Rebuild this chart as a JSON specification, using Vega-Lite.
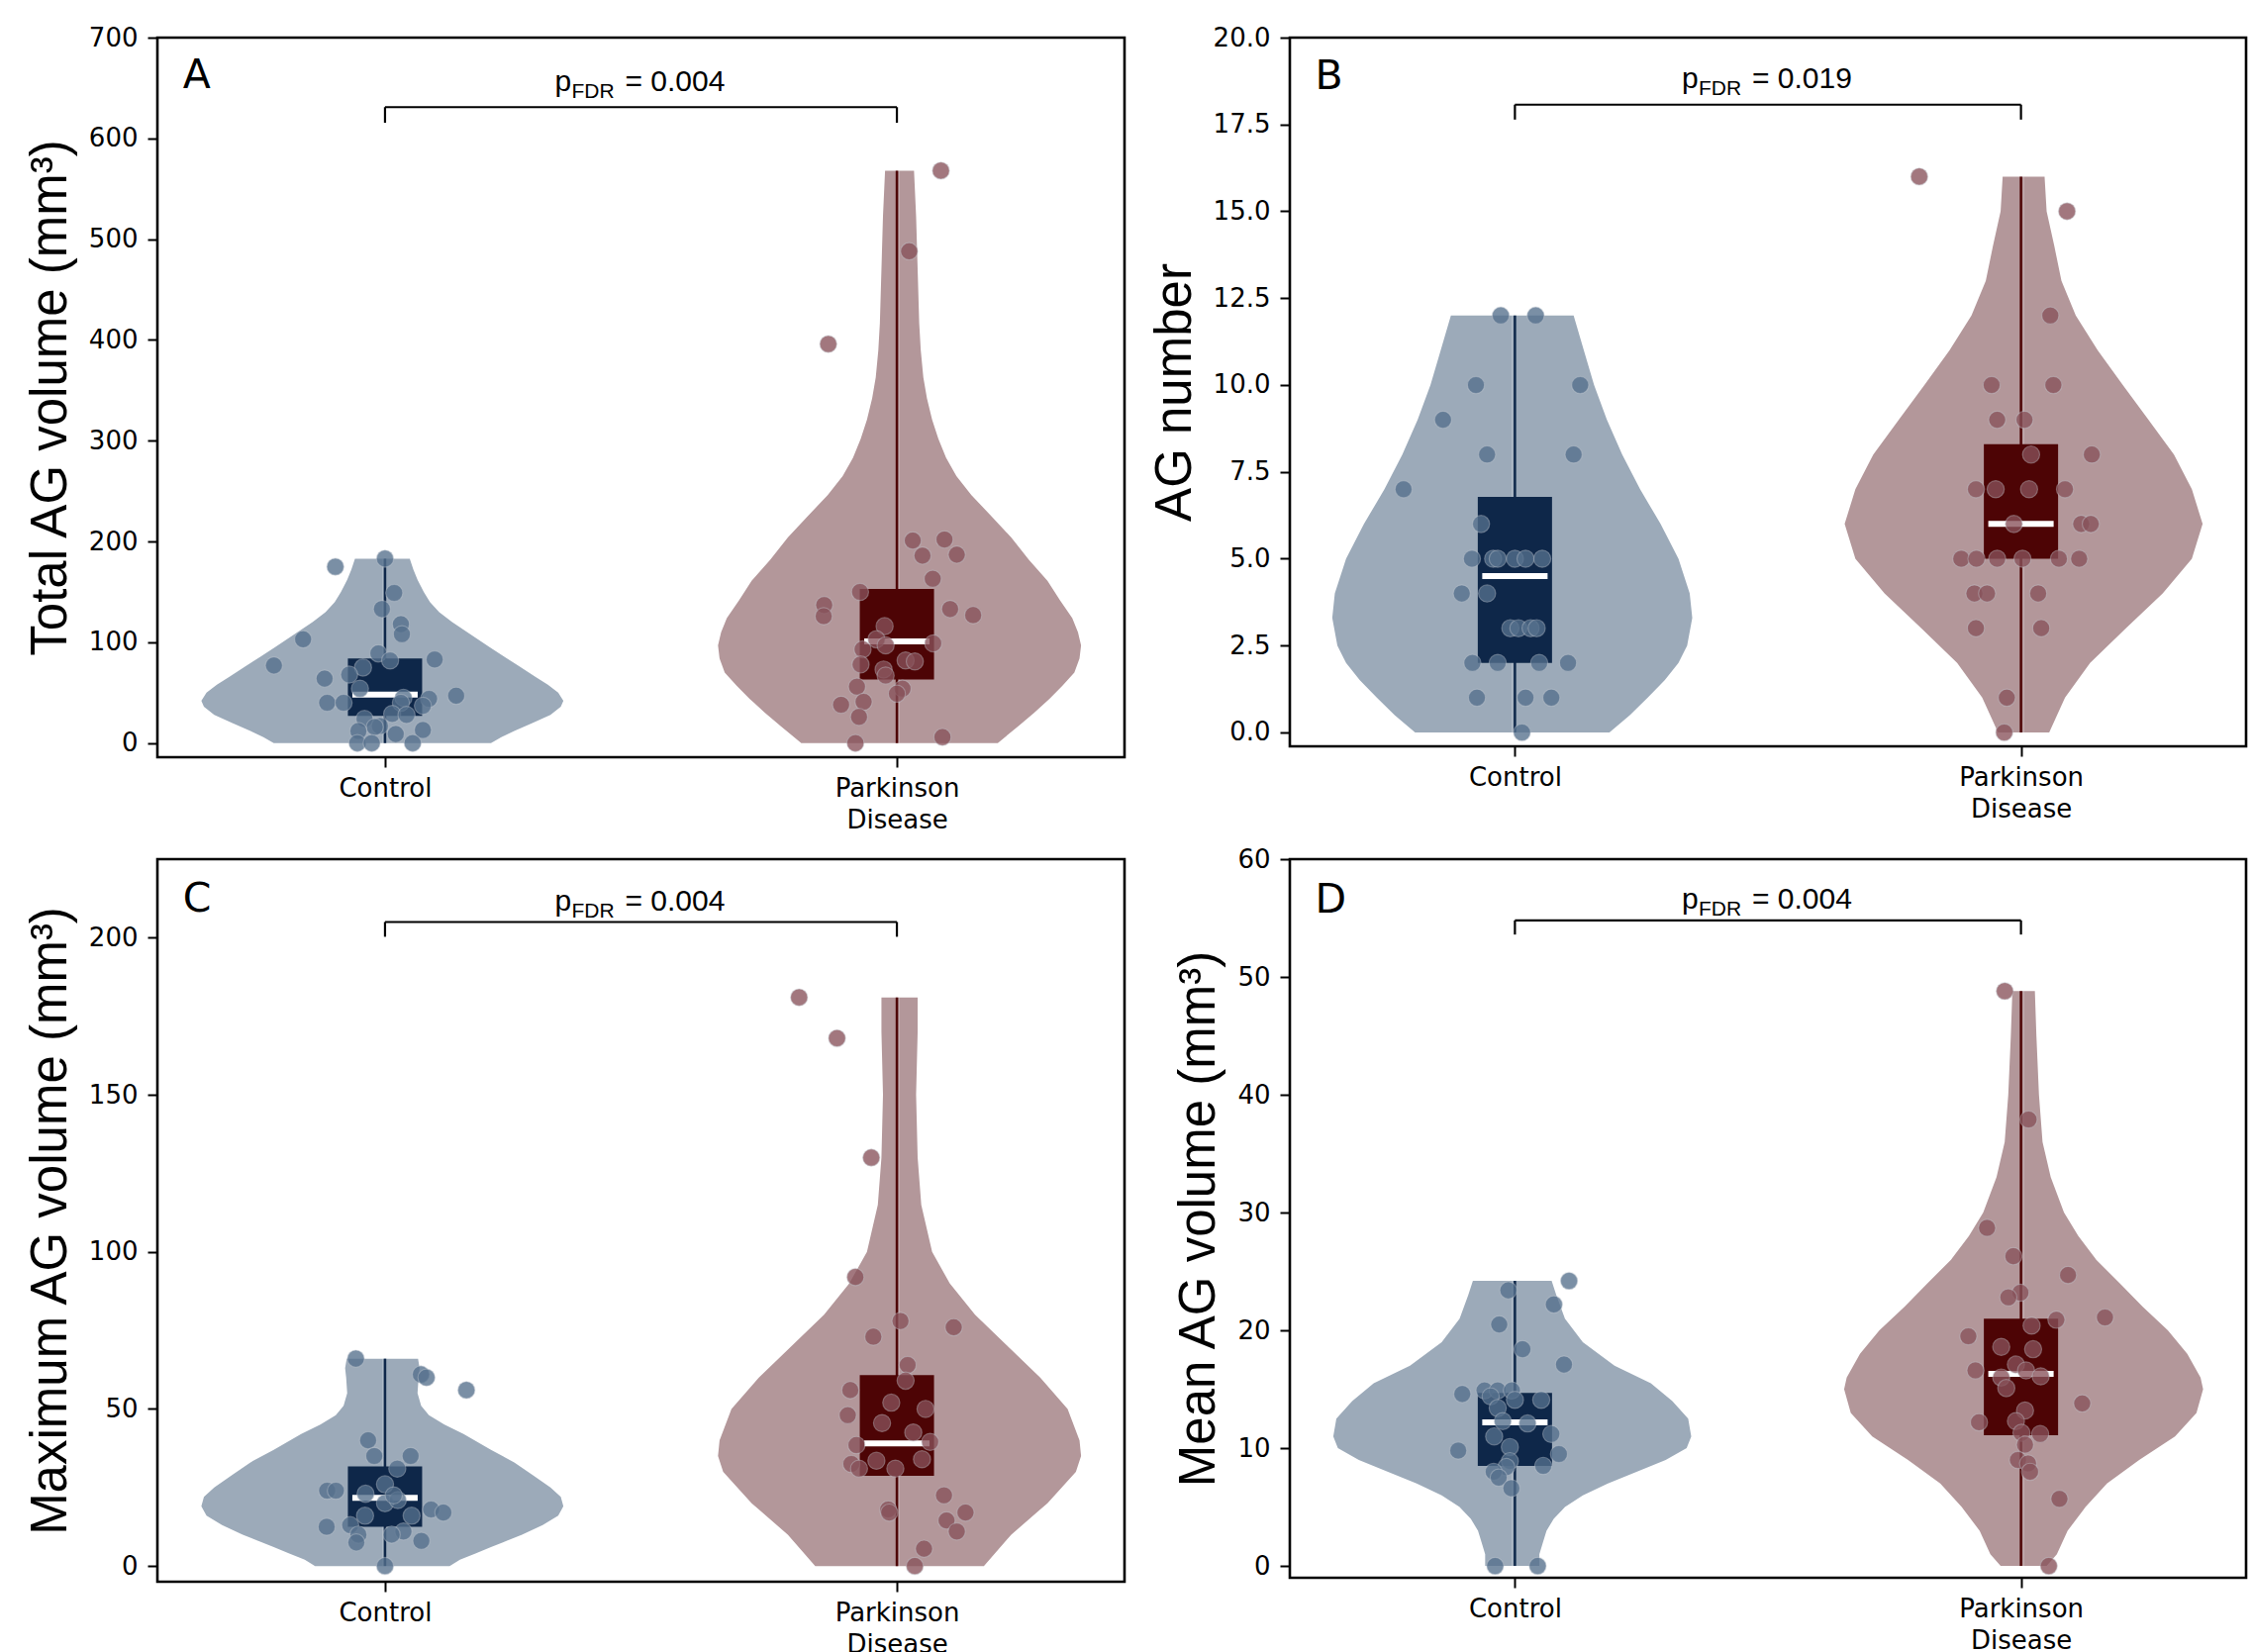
{
"$schema": "https://vega.github.io/schema/vega-lite/v6.json",
"background": "white",
"padding": {"left": 24, "top": 23, "right": 6, "bottom": 4},
"columns": 2,
"bounds": "flush",
"align": "all",
"spacing": {"row": 100, "column": 167},
"datasets": {
"pts": [
{"p":"A","g":"Control","x":0,"v":183},{"p":"A","g":"Control","x":-0.097,"v":175},{"p":"A","g":"Control","x":0.018,"v":149},{"p":"A","g":"Control","x":-0.006,"v":133},{"p":"A","g":"Control","x":0.031,"v":118},{"p":"A","g":"Control","x":0.033,"v":108},{"p":"A","g":"Control","x":-0.16,"v":103},{"p":"A","g":"Control","x":-0.013,"v":89},{"p":"A","g":"Control","x":0.097,"v":83},{"p":"A","g":"Control","x":0.01,"v":82},{"p":"A","g":"Control","x":-0.217,"v":77},{"p":"A","g":"Control","x":-0.043,"v":75},{"p":"A","g":"Control","x":-0.118,"v":64},{"p":"A","g":"Control","x":-0.07,"v":68},{"p":"A","g":"Control","x":-0.049,"v":54},{"p":"A","g":"Control","x":0.139,"v":47},{"p":"A","g":"Control","x":0.036,"v":45},{"p":"A","g":"Control","x":0.086,"v":44},{"p":"A","g":"Control","x":-0.113,"v":40},{"p":"A","g":"Control","x":-0.081,"v":40},{"p":"A","g":"Control","x":0.031,"v":40},{"p":"A","g":"Control","x":0.074,"v":37},{"p":"A","g":"Control","x":-0.04,"v":24},{"p":"A","g":"Control","x":0.014,"v":29},{"p":"A","g":"Control","x":0.042,"v":28},{"p":"A","g":"Control","x":-0.01,"v":17},{"p":"A","g":"Control","x":-0.02,"v":16},{"p":"A","g":"Control","x":-0.052,"v":12},{"p":"A","g":"Control","x":0.074,"v":13},{"p":"A","g":"Control","x":0.021,"v":9},{"p":"A","g":"Control","x":-0.054,"v":0},{"p":"A","g":"Control","x":-0.026,"v":0},{"p":"A","g":"Control","x":0.054,"v":0},
{"p":"A","g":"PD","x":1.086,"v":568},{"p":"A","g":"PD","x":1.024,"v":488},{"p":"A","g":"PD","x":0.866,"v":396},{"p":"A","g":"PD","x":1.031,"v":201},{"p":"A","g":"PD","x":1.093,"v":202},{"p":"A","g":"PD","x":1.05,"v":186},{"p":"A","g":"PD","x":1.117,"v":187},{"p":"A","g":"PD","x":1.07,"v":163},{"p":"A","g":"PD","x":0.928,"v":150},{"p":"A","g":"PD","x":0.858,"v":137},{"p":"A","g":"PD","x":0.857,"v":126},{"p":"A","g":"PD","x":1.104,"v":133},{"p":"A","g":"PD","x":1.149,"v":127},{"p":"A","g":"PD","x":0.976,"v":116},{"p":"A","g":"PD","x":0.96,"v":103},{"p":"A","g":"PD","x":0.933,"v":93},{"p":"A","g":"PD","x":0.978,"v":97},{"p":"A","g":"PD","x":1.071,"v":99},{"p":"A","g":"PD","x":0.929,"v":78},{"p":"A","g":"PD","x":1.017,"v":82},{"p":"A","g":"PD","x":1.035,"v":81},{"p":"A","g":"PD","x":0.974,"v":73},{"p":"A","g":"PD","x":0.978,"v":67},{"p":"A","g":"PD","x":0.922,"v":56},{"p":"A","g":"PD","x":1.011,"v":54},{"p":"A","g":"PD","x":1.0,"v":49},{"p":"A","g":"PD","x":0.891,"v":38},{"p":"A","g":"PD","x":0.935,"v":41},{"p":"A","g":"PD","x":0.926,"v":26},{"p":"A","g":"PD","x":1.089,"v":6},{"p":"A","g":"PD","x":0.919,"v":0},
{"p":"B","g":"Control","x":-0.028,"v":12},{"p":"B","g":"Control","x":0.041,"v":12},{"p":"B","g":"Control","x":-0.077,"v":10},{"p":"B","g":"Control","x":0.129,"v":10},{"p":"B","g":"Control","x":-0.142,"v":9},{"p":"B","g":"Control","x":-0.055,"v":8},{"p":"B","g":"Control","x":0.116,"v":8},{"p":"B","g":"Control","x":-0.22,"v":7},{"p":"B","g":"Control","x":-0.067,"v":6},{"p":"B","g":"Control","x":-0.085,"v":5},{"p":"B","g":"Control","x":-0.043,"v":5},{"p":"B","g":"Control","x":-0.034,"v":5},{"p":"B","g":"Control","x":0,"v":5},{"p":"B","g":"Control","x":0.021,"v":5},{"p":"B","g":"Control","x":0.054,"v":5},{"p":"B","g":"Control","x":-0.105,"v":4},{"p":"B","g":"Control","x":-0.055,"v":4},{"p":"B","g":"Control","x":-0.009,"v":3},{"p":"B","g":"Control","x":0.007,"v":3},{"p":"B","g":"Control","x":0.031,"v":3},{"p":"B","g":"Control","x":0.043,"v":3},{"p":"B","g":"Control","x":-0.084,"v":2},{"p":"B","g":"Control","x":-0.034,"v":2},{"p":"B","g":"Control","x":0.048,"v":2},{"p":"B","g":"Control","x":0.105,"v":2},{"p":"B","g":"Control","x":-0.075,"v":1},{"p":"B","g":"Control","x":0.021,"v":1},{"p":"B","g":"Control","x":0.072,"v":1},{"p":"B","g":"Control","x":0.014,"v":0},
{"p":"B","g":"PD","x":0.799,"v":16},{"p":"B","g":"PD","x":1.091,"v":15},{"p":"B","g":"PD","x":1.058,"v":12},{"p":"B","g":"PD","x":0.942,"v":10},{"p":"B","g":"PD","x":1.064,"v":10},{"p":"B","g":"PD","x":0.953,"v":9},{"p":"B","g":"PD","x":1.007,"v":9},{"p":"B","g":"PD","x":1.02,"v":8},{"p":"B","g":"PD","x":1.14,"v":8},{"p":"B","g":"PD","x":0.911,"v":7},{"p":"B","g":"PD","x":0.95,"v":7},{"p":"B","g":"PD","x":1.016,"v":7},{"p":"B","g":"PD","x":1.087,"v":7},{"p":"B","g":"PD","x":0.986,"v":6},{"p":"B","g":"PD","x":1.119,"v":6},{"p":"B","g":"PD","x":1.138,"v":6},{"p":"B","g":"PD","x":0.882,"v":5},{"p":"B","g":"PD","x":0.912,"v":5},{"p":"B","g":"PD","x":0.953,"v":5},{"p":"B","g":"PD","x":1.003,"v":5},{"p":"B","g":"PD","x":1.075,"v":5},{"p":"B","g":"PD","x":1.115,"v":5},{"p":"B","g":"PD","x":0.908,"v":4},{"p":"B","g":"PD","x":0.933,"v":4},{"p":"B","g":"PD","x":1.034,"v":4},{"p":"B","g":"PD","x":0.911,"v":3},{"p":"B","g":"PD","x":1.04,"v":3},{"p":"B","g":"PD","x":0.972,"v":1},{"p":"B","g":"PD","x":0.967,"v":0},
{"p":"C","g":"Control","x":-0.057,"v":66},{"p":"C","g":"Control","x":0.07,"v":61},{"p":"C","g":"Control","x":0.081,"v":60},{"p":"C","g":"Control","x":0.159,"v":56},{"p":"C","g":"Control","x":-0.033,"v":40},{"p":"C","g":"Control","x":-0.021,"v":35},{"p":"C","g":"Control","x":0.05,"v":35},{"p":"C","g":"Control","x":0.024,"v":31},{"p":"C","g":"Control","x":-0.113,"v":24},{"p":"C","g":"Control","x":-0.096,"v":24},{"p":"C","g":"Control","x":0,"v":26},{"p":"C","g":"Control","x":-0.038,"v":23},{"p":"C","g":"Control","x":0,"v":20},{"p":"C","g":"Control","x":0.025,"v":21},{"p":"C","g":"Control","x":0.017,"v":22.5},{"p":"C","g":"Control","x":0.09,"v":18},{"p":"C","g":"Control","x":0.114,"v":17},{"p":"C","g":"Control","x":-0.039,"v":16},{"p":"C","g":"Control","x":0.052,"v":16},{"p":"C","g":"Control","x":-0.114,"v":12.5},{"p":"C","g":"Control","x":-0.068,"v":13},{"p":"C","g":"Control","x":-0.052,"v":10},{"p":"C","g":"Control","x":0.036,"v":11},{"p":"C","g":"Control","x":0.013,"v":10},{"p":"C","g":"Control","x":-0.056,"v":7.5},{"p":"C","g":"Control","x":0.071,"v":8},{"p":"C","g":"Control","x":0,"v":0},
{"p":"C","g":"PD","x":0.809,"v":181},{"p":"C","g":"PD","x":0.883,"v":168},{"p":"C","g":"PD","x":0.95,"v":130},{"p":"C","g":"PD","x":0.919,"v":92},{"p":"C","g":"PD","x":1.007,"v":78},{"p":"C","g":"PD","x":1.111,"v":76},{"p":"C","g":"PD","x":0.954,"v":73},{"p":"C","g":"PD","x":1.021,"v":64},{"p":"C","g":"PD","x":1.017,"v":59},{"p":"C","g":"PD","x":0.909,"v":56},{"p":"C","g":"PD","x":0.989,"v":52},{"p":"C","g":"PD","x":1.056,"v":50},{"p":"C","g":"PD","x":0.904,"v":48},{"p":"C","g":"PD","x":0.971,"v":45.5},{"p":"C","g":"PD","x":1.032,"v":42.5},{"p":"C","g":"PD","x":1.065,"v":39.5},{"p":"C","g":"PD","x":0.921,"v":38.5},{"p":"C","g":"PD","x":1.049,"v":34},{"p":"C","g":"PD","x":0.96,"v":33.5},{"p":"C","g":"PD","x":0.911,"v":32.5},{"p":"C","g":"PD","x":0.926,"v":31},{"p":"C","g":"PD","x":0.997,"v":31},{"p":"C","g":"PD","x":1.092,"v":22.5},{"p":"C","g":"PD","x":0.983,"v":18},{"p":"C","g":"PD","x":0.985,"v":17},{"p":"C","g":"PD","x":1.134,"v":17},{"p":"C","g":"PD","x":1.097,"v":14.5},{"p":"C","g":"PD","x":1.117,"v":11},{"p":"C","g":"PD","x":1.053,"v":5.5},{"p":"C","g":"PD","x":1.035,"v":0},
{"p":"D","g":"Control","x":0.107,"v":24.2},{"p":"D","g":"Control","x":-0.013,"v":23.4},{"p":"D","g":"Control","x":0.077,"v":22.2},{"p":"D","g":"Control","x":-0.031,"v":20.5},{"p":"D","g":"Control","x":0.015,"v":18.4},{"p":"D","g":"Control","x":0.097,"v":17.1},{"p":"D","g":"Control","x":-0.104,"v":14.6},{"p":"D","g":"Control","x":-0.06,"v":14.9},{"p":"D","g":"Control","x":-0.034,"v":14.9},{"p":"D","g":"Control","x":-0.006,"v":14.9},{"p":"D","g":"Control","x":-0.048,"v":14.4},{"p":"D","g":"Control","x":0.052,"v":14.1},{"p":"D","g":"Control","x":0,"v":14.1},{"p":"D","g":"Control","x":-0.034,"v":13.4},{"p":"D","g":"Control","x":-0.024,"v":12.3},{"p":"D","g":"Control","x":0.025,"v":12.1},{"p":"D","g":"Control","x":0.072,"v":11.2},{"p":"D","g":"Control","x":-0.041,"v":11},{"p":"D","g":"Control","x":-0.01,"v":10.1},{"p":"D","g":"Control","x":-0.112,"v":9.8},{"p":"D","g":"Control","x":0.087,"v":9.5},{"p":"D","g":"Control","x":-0.01,"v":8.9},{"p":"D","g":"Control","x":-0.017,"v":8.4},{"p":"D","g":"Control","x":0.056,"v":8.5},{"p":"D","g":"Control","x":-0.042,"v":8.0},{"p":"D","g":"Control","x":-0.032,"v":7.5},{"p":"D","g":"Control","x":-0.007,"v":6.6},{"p":"D","g":"Control","x":-0.039,"v":0},{"p":"D","g":"Control","x":0.045,"v":0},
{"p":"D","g":"PD","x":0.968,"v":48.8},{"p":"D","g":"PD","x":1.015,"v":37.9},{"p":"D","g":"PD","x":0.933,"v":28.7},{"p":"D","g":"PD","x":0.985,"v":26.3},{"p":"D","g":"PD","x":1.093,"v":24.7},{"p":"D","g":"PD","x":0.999,"v":23.2},{"p":"D","g":"PD","x":0.975,"v":22.8},{"p":"D","g":"PD","x":1.166,"v":21.1},{"p":"D","g":"PD","x":1.07,"v":20.9},{"p":"D","g":"PD","x":1.021,"v":20.4},{"p":"D","g":"PD","x":0.896,"v":19.5},{"p":"D","g":"PD","x":0.961,"v":18.6},{"p":"D","g":"PD","x":1.024,"v":18.4},{"p":"D","g":"PD","x":0.99,"v":17.1},{"p":"D","g":"PD","x":0.91,"v":16.6},{"p":"D","g":"PD","x":0.961,"v":16.0},{"p":"D","g":"PD","x":1.01,"v":16.6},{"p":"D","g":"PD","x":1.039,"v":16.1},{"p":"D","g":"PD","x":0.971,"v":15.1},{"p":"D","g":"PD","x":1.121,"v":13.8},{"p":"D","g":"PD","x":1.008,"v":13.2},{"p":"D","g":"PD","x":0.917,"v":12.2},{"p":"D","g":"PD","x":0.99,"v":12.3},{"p":"D","g":"PD","x":1.001,"v":11.3},{"p":"D","g":"PD","x":1.038,"v":11.2},{"p":"D","g":"PD","x":1.008,"v":10.3},{"p":"D","g":"PD","x":0.994,"v":9.0},{"p":"D","g":"PD","x":1.014,"v":8.7},{"p":"D","g":"PD","x":1.018,"v":8.0},{"p":"D","g":"PD","x":1.076,"v":5.7},{"p":"D","g":"PD","x":1.055,"v":0}
],
"vio": [
{"p":"A","g":"Control","v":0,"h":0.21},{"p":"A","g":"Control","v":6,"h":0.23},{"p":"A","g":"Control","v":12,"h":0.255},{"p":"A","g":"Control","v":20,"h":0.29},{"p":"A","g":"Control","v":28,"h":0.325},{"p":"A","g":"Control","v":36,"h":0.345},{"p":"A","g":"Control","v":42,"h":0.35},{"p":"A","g":"Control","v":50,"h":0.34},{"p":"A","g":"Control","v":58,"h":0.32},{"p":"A","g":"Control","v":66,"h":0.295},{"p":"A","g":"Control","v":76,"h":0.265},{"p":"A","g":"Control","v":86,"h":0.235},{"p":"A","g":"Control","v":96,"h":0.205},{"p":"A","g":"Control","v":108,"h":0.17},{"p":"A","g":"Control","v":120,"h":0.135},{"p":"A","g":"Control","v":130,"h":0.11},{"p":"A","g":"Control","v":140,"h":0.092},{"p":"A","g":"Control","v":150,"h":0.08},{"p":"A","g":"Control","v":162,"h":0.068},{"p":"A","g":"Control","v":172,"h":0.06},{"p":"A","g":"Control","v":183,"h":0.053},
{"p":"A","g":"PD","v":0,"h":0.19},{"p":"A","g":"PD","v":17,"h":0.23},{"p":"A","g":"PD","v":30,"h":0.26},{"p":"A","g":"PD","v":44,"h":0.29},{"p":"A","g":"PD","v":57,"h":0.315},{"p":"A","g":"PD","v":70,"h":0.338},{"p":"A","g":"PD","v":84,"h":0.348},{"p":"A","g":"PD","v":97,"h":0.351},{"p":"A","g":"PD","v":110,"h":0.345},{"p":"A","g":"PD","v":124,"h":0.334},{"p":"A","g":"PD","v":142,"h":0.31},{"p":"A","g":"PD","v":161,"h":0.286},{"p":"A","g":"PD","v":182,"h":0.25},{"p":"A","g":"PD","v":204,"h":0.216},{"p":"A","g":"PD","v":225,"h":0.178},{"p":"A","g":"PD","v":246,"h":0.139},{"p":"A","g":"PD","v":265,"h":0.11},{"p":"A","g":"PD","v":283,"h":0.09},{"p":"A","g":"PD","v":302,"h":0.075},{"p":"A","g":"PD","v":321,"h":0.063},{"p":"A","g":"PD","v":342,"h":0.053},{"p":"A","g":"PD","v":363,"h":0.046},{"p":"A","g":"PD","v":390,"h":0.041},{"p":"A","g":"PD","v":417,"h":0.038},{"p":"A","g":"PD","v":470,"h":0.035},{"p":"A","g":"PD","v":523,"h":0.032},{"p":"A","g":"PD","v":568,"h":0.028},
{"p":"B","g":"Control","v":0,"h":0.19},{"p":"B","g":"Control","v":0.5,"h":0.23},{"p":"B","g":"Control","v":1,"h":0.265},{"p":"B","g":"Control","v":1.5,"h":0.298},{"p":"B","g":"Control","v":2,"h":0.325},{"p":"B","g":"Control","v":2.5,"h":0.342},{"p":"B","g":"Control","v":3.3,"h":0.352},{"p":"B","g":"Control","v":4,"h":0.347},{"p":"B","g":"Control","v":5,"h":0.325},{"p":"B","g":"Control","v":6,"h":0.29},{"p":"B","g":"Control","v":7,"h":0.25},{"p":"B","g":"Control","v":8,"h":0.215},{"p":"B","g":"Control","v":9,"h":0.185},{"p":"B","g":"Control","v":10,"h":0.16},{"p":"B","g":"Control","v":11,"h":0.14},{"p":"B","g":"Control","v":12,"h":0.12},
{"p":"B","g":"PD","v":0,"h":0.05},{"p":"B","g":"PD","v":1,"h":0.081},{"p":"B","g":"PD","v":2,"h":0.13},{"p":"B","g":"PD","v":3,"h":0.2},{"p":"B","g":"PD","v":4,"h":0.272},{"p":"B","g":"PD","v":5,"h":0.329},{"p":"B","g":"PD","v":6,"h":0.35},{"p":"B","g":"PD","v":7,"h":0.329},{"p":"B","g":"PD","v":8,"h":0.294},{"p":"B","g":"PD","v":9,"h":0.244},{"p":"B","g":"PD","v":10,"h":0.194},{"p":"B","g":"PD","v":11,"h":0.145},{"p":"B","g":"PD","v":12,"h":0.102},{"p":"B","g":"PD","v":13,"h":0.074},{"p":"B","g":"PD","v":14,"h":0.06},{"p":"B","g":"PD","v":15,"h":0.045},{"p":"B","g":"PD","v":16,"h":0.041},
{"p":"C","g":"Control","v":0,"h":0.13},{"p":"C","g":"Control","v":2,"h":0.15},{"p":"C","g":"Control","v":4,"h":0.18},{"p":"C","g":"Control","v":6,"h":0.21},{"p":"C","g":"Control","v":8,"h":0.24},{"p":"C","g":"Control","v":10,"h":0.27},{"p":"C","g":"Control","v":13,"h":0.31},{"p":"C","g":"Control","v":16,"h":0.34},{"p":"C","g":"Control","v":19,"h":0.35},{"p":"C","g":"Control","v":22,"h":0.345},{"p":"C","g":"Control","v":25,"h":0.325},{"p":"C","g":"Control","v":29,"h":0.29},{"p":"C","g":"Control","v":33,"h":0.255},{"p":"C","g":"Control","v":37,"h":0.21},{"p":"C","g":"Control","v":42,"h":0.157},{"p":"C","g":"Control","v":45,"h":0.12},{"p":"C","g":"Control","v":48,"h":0.09},{"p":"C","g":"Control","v":51,"h":0.075},{"p":"C","g":"Control","v":55,"h":0.068},{"p":"C","g":"Control","v":60,"h":0.07},{"p":"C","g":"Control","v":63,"h":0.072},{"p":"C","g":"Control","v":66,"h":0.069},
{"p":"C","g":"PD","v":0,"h":0.163},{"p":"C","g":"PD","v":10,"h":0.216},{"p":"C","g":"PD","v":20,"h":0.286},{"p":"C","g":"PD","v":30,"h":0.341},{"p":"C","g":"PD","v":35,"h":0.351},{"p":"C","g":"PD","v":40,"h":0.348},{"p":"C","g":"PD","v":50,"h":0.325},{"p":"C","g":"PD","v":60,"h":0.272},{"p":"C","g":"PD","v":70,"h":0.209},{"p":"C","g":"PD","v":80,"h":0.146},{"p":"C","g":"PD","v":90,"h":0.097},{"p":"C","g":"PD","v":100,"h":0.063},{"p":"C","g":"PD","v":115,"h":0.042},{"p":"C","g":"PD","v":130,"h":0.035},{"p":"C","g":"PD","v":150,"h":0.032},{"p":"C","g":"PD","v":170,"h":0.035},{"p":"C","g":"PD","v":181,"h":0.035},
{"p":"D","g":"Control","v":0,"h":0.053},{"p":"D","g":"Control","v":1,"h":0.053},{"p":"D","g":"Control","v":2,"h":0.06},{"p":"D","g":"Control","v":3,"h":0.067},{"p":"D","g":"Control","v":4,"h":0.081},{"p":"D","g":"Control","v":5,"h":0.103},{"p":"D","g":"Control","v":6,"h":0.138},{"p":"D","g":"Control","v":7,"h":0.187},{"p":"D","g":"Control","v":8,"h":0.243},{"p":"D","g":"Control","v":9,"h":0.3},{"p":"D","g":"Control","v":10,"h":0.341},{"p":"D","g":"Control","v":11,"h":0.35},{"p":"D","g":"Control","v":12.5,"h":0.344},{"p":"D","g":"Control","v":14,"h":0.313},{"p":"D","g":"Control","v":15.5,"h":0.271},{"p":"D","g":"Control","v":17,"h":0.2},{"p":"D","g":"Control","v":19,"h":0.138},{"p":"D","g":"Control","v":21,"h":0.103},{"p":"D","g":"Control","v":23,"h":0.086},{"p":"D","g":"Control","v":24.2,"h":0.077},
{"p":"D","g":"PD","v":0,"h":0.045},{"p":"D","g":"PD","v":1,"h":0.065},{"p":"D","g":"PD","v":3,"h":0.086},{"p":"D","g":"PD","v":5,"h":0.121},{"p":"D","g":"PD","v":7,"h":0.163},{"p":"D","g":"PD","v":9,"h":0.226},{"p":"D","g":"PD","v":11,"h":0.296},{"p":"D","g":"PD","v":13,"h":0.338},{"p":"D","g":"PD","v":15,"h":0.351},{"p":"D","g":"PD","v":16,"h":0.346},{"p":"D","g":"PD","v":18,"h":0.32},{"p":"D","g":"PD","v":20,"h":0.282},{"p":"D","g":"PD","v":22,"h":0.233},{"p":"D","g":"PD","v":24,"h":0.188},{"p":"D","g":"PD","v":26,"h":0.142},{"p":"D","g":"PD","v":28,"h":0.107},{"p":"D","g":"PD","v":30,"h":0.079},{"p":"D","g":"PD","v":33,"h":0.053},{"p":"D","g":"PD","v":36,"h":0.037},{"p":"D","g":"PD","v":40,"h":0.03},{"p":"D","g":"PD","v":45,"h":0.025},{"p":"D","g":"PD","v":48.8,"h":0.022}
],
"box": [
{"p":"A","g":"Control","gi":0,"lo":0,"q1":27,"med":48,"q3":84,"hi":183},
{"p":"A","g":"PD","gi":1,"lo":0,"q1":63,"med":101,"q3":153,"hi":568},
{"p":"B","g":"Control","gi":0,"lo":0,"q1":2,"med":4.5,"q3":6.78,"hi":12},
{"p":"B","g":"PD","gi":1,"lo":0,"q1":5,"med":6,"q3":8.3,"hi":16},
{"p":"C","g":"Control","gi":0,"lo":0,"q1":12.5,"med":21.7,"q3":31.7,"hi":66},
{"p":"C","g":"PD","gi":1,"lo":0,"q1":28.7,"med":39,"q3":60.8,"hi":181},
{"p":"D","g":"Control","gi":0,"lo":0,"q1":8.5,"med":12.2,"q3":14.7,"hi":24.2},
{"p":"D","g":"PD","gi":1,"lo":0,"q1":11.1,"med":16.3,"q3":21,"hi":48.8}
],
"ann": [
{"p":"A","letter":"A","ps":"p","sub":"FDR","pval":"= 0.004"},
{"p":"B","letter":"B","ps":"p","sub":"FDR","pval":"= 0.019"},
{"p":"C","letter":"C","ps":"p","sub":"FDR","pval":"= 0.004"},
{"p":"D","letter":"D","ps":"p","sub":"FDR","pval":"= 0.004"}
]
},
"concat": [
{
"width": 977, "height": 727,
"resolve": {"axis": {"x": "independent", "y": "independent"}},
"layer": [
{"resolve": {"scale": {"x": "independent"}},
 "data": {"name": "vio"},
 "transform": [{"filter": "datum.p == 'A'"}],
 "layer": [
  {"transform": [{"filter": "datum.g == 'Control'"}], "mark": {"type": "area", "orient": "horizontal", "color": "#9caab9"},
   "encoding": {"y": {"field": "v", "type": "quantitative", "scale": {"domain": [-14, 700], "nice": false, "zero": false}, "axis": null},
    "x": {"field": "h", "type": "quantitative", "scale": {"domain": [-0.435, 1.435], "nice": false, "zero": false}, "axis": null}, "x2": {"datum": 0}}},
  {"transform": [{"filter": "datum.g == 'Control'"}], "mark": {"type": "area", "orient": "horizontal", "color": "#9caab9"},
   "encoding": {"y": {"field": "v", "type": "quantitative", "axis": null},
    "x": {"field": "h", "type": "quantitative", "scale": {"domain": [-1.435, 0.435], "reverse": true, "nice": false, "zero": false}, "axis": null}, "x2": {"datum": 0}}},
  {"transform": [{"filter": "datum.g == 'PD'"}], "mark": {"type": "area", "orient": "horizontal", "color": "#b3979a"},
   "encoding": {"y": {"field": "v", "type": "quantitative", "axis": null},
    "x": {"field": "h", "type": "quantitative", "scale": {"domain": [-1.435, 0.435], "nice": false, "zero": false}, "axis": null}, "x2": {"datum": 0}}},
  {"transform": [{"filter": "datum.g == 'PD'"}], "mark": {"type": "area", "orient": "horizontal", "color": "#b3979a"},
   "encoding": {"y": {"field": "v", "type": "quantitative", "axis": null},
    "x": {"field": "h", "type": "quantitative", "scale": {"domain": [-0.435, 1.435], "reverse": true, "nice": false, "zero": false}, "axis": null}, "x2": {"datum": 0}}}
 ]},
{"data": {"name": "box"}, "transform": [{"filter": "datum.p == 'A'"}],
 "encoding": {"x": {"field": "gi", "type": "quantitative", "scale": {"domain": [-0.435, 1.435], "nice": false, "zero": false}, "axis": null}},
 "layer": [
  {"mark": {"type": "rule", "strokeWidth": 2.5}, "encoding": {"y": {"field": "lo", "type": "quantitative", "axis": null}, "y2": {"field": "hi"}, "color": {"condition": {"test": "datum.g == 'Control'", "value": "#0e2749"}, "value": "#4d0405"}}},
  {"mark": {"type": "bar", "size": 75}, "encoding": {"y": {"field": "q1", "type": "quantitative", "axis": null}, "y2": {"field": "q3"}, "color": {"condition": {"test": "datum.g == 'Control'", "value": "#0e2749"}, "value": "#4d0405"}}},
  {"mark": {"type": "tick", "orient": "horizontal", "color": "white", "size": 66, "thickness": 6, "opacity": 1}, "encoding": {"y": {"field": "med", "type": "quantitative", "axis": null}}}
 ]},
{"data": {"name": "pts"}, "transform": [{"filter": "datum.p == 'A'"}],
 "mark": {"type": "circle", "size": 300, "opacity": 0.78, "stroke": "#c5ccd4", "strokeWidth": 1.2, "strokeOpacity": 0.5},
 "encoding": {
  "x": {"field": "x", "type": "quantitative", "scale": {"domain": [-0.435, 1.435], "nice": false, "zero": false}, "axis": {"orient": "bottom", "values": [0, 1], "labelExpr": "datum.value == 0 ? 'Control' : ['Parkinson', 'Disease']", "title": null}},
  "y": {"field": "v", "type": "quantitative", "axis": {"orient": "left", "values": [0, 100, 200, 300, 400, 500, 600, 700], "format": "d", "title": "Total AG volume (mm³)"}},
  "color": {"condition": {"test": "datum.g == 'Control'", "value": "#55708d"}, "value": "#88525a"}}},
{"data": {"name": "ann"}, "transform": [{"filter": "datum.p == 'A'"}],
 "layer": [
  {"mark": {"type": "rule", "color": "black", "strokeWidth": 2.2}, "encoding": {"x": {"datum": 0, "type": "quantitative", "axis": null}, "x2": {"datum": 1}, "y": {"datum": 631, "type": "quantitative", "axis": null}}},
  {"mark": {"type": "rule", "color": "black", "strokeWidth": 2.2}, "encoding": {"x": {"datum": 0, "type": "quantitative", "axis": null}, "y": {"datum": 615.5, "type": "quantitative", "axis": null}, "y2": {"datum": 631}}},
  {"mark": {"type": "rule", "color": "black", "strokeWidth": 2.2}, "encoding": {"x": {"datum": 1, "type": "quantitative", "axis": null}, "y": {"datum": 615.5, "type": "quantitative", "axis": null}, "y2": {"datum": 631}}},
  {"mark": {"type": "text", "font": "DejaVu Sans", "fontSize": 41, "align": "left", "baseline": "alphabetic", "color": "black"}, "encoding": {"x": {"datum": -0.395, "type": "quantitative", "axis": null}, "y": {"datum": 650, "type": "quantitative", "axis": null}, "text": {"field": "letter"}}},
  {"mark": {"type": "text", "font": "Liberation Sans", "fontSize": 30, "align": "left", "baseline": "alphabetic", "color": "black", "dx": -87}, "encoding": {"x": {"datum": 0.5, "type": "quantitative", "axis": null}, "y": {"datum": 647, "type": "quantitative", "axis": null}, "text": {"field": "ps"}}},
  {"mark": {"type": "text", "font": "Liberation Sans", "fontSize": 21, "align": "left", "baseline": "alphabetic", "color": "black", "dx": -70, "dy": 7}, "encoding": {"x": {"datum": 0.5, "type": "quantitative", "axis": null}, "y": {"datum": 647, "type": "quantitative", "axis": null}, "text": {"field": "sub"}}},
  {"mark": {"type": "text", "font": "Liberation Sans", "fontSize": 30, "align": "left", "baseline": "alphabetic", "color": "black", "dx": -16}, "encoding": {"x": {"datum": 0.5, "type": "quantitative", "axis": null}, "y": {"datum": 647, "type": "quantitative", "axis": null}, "text": {"field": "pval"}}}
 ]}
]
},
{
"width": 966, "height": 716,
"resolve": {"axis": {"x": "independent", "y": "independent"}},
"layer": [
{"resolve": {"scale": {"x": "independent"}},
 "data": {"name": "vio"},
 "transform": [{"filter": "datum.p == 'B'"}],
 "layer": [
  {"transform": [{"filter": "datum.g == 'Control'"}], "mark": {"type": "area", "orient": "horizontal", "color": "#9caab9"},
   "encoding": {"y": {"field": "v", "type": "quantitative", "scale": {"domain": [-0.4, 20], "nice": false, "zero": false}, "axis": null},
    "x": {"field": "h", "type": "quantitative", "scale": {"domain": [-0.435, 1.435], "nice": false, "zero": false}, "axis": null}, "x2": {"datum": 0}}},
  {"transform": [{"filter": "datum.g == 'Control'"}], "mark": {"type": "area", "orient": "horizontal", "color": "#9caab9"},
   "encoding": {"y": {"field": "v", "type": "quantitative", "axis": null},
    "x": {"field": "h", "type": "quantitative", "scale": {"domain": [-1.435, 0.435], "reverse": true, "nice": false, "zero": false}, "axis": null}, "x2": {"datum": 0}}},
  {"transform": [{"filter": "datum.g == 'PD'"}], "mark": {"type": "area", "orient": "horizontal", "color": "#b3979a"},
   "encoding": {"y": {"field": "v", "type": "quantitative", "axis": null},
    "x": {"field": "h", "type": "quantitative", "scale": {"domain": [-1.435, 0.435], "nice": false, "zero": false}, "axis": null}, "x2": {"datum": 0}}},
  {"transform": [{"filter": "datum.g == 'PD'"}], "mark": {"type": "area", "orient": "horizontal", "color": "#b3979a"},
   "encoding": {"y": {"field": "v", "type": "quantitative", "axis": null},
    "x": {"field": "h", "type": "quantitative", "scale": {"domain": [-0.435, 1.435], "reverse": true, "nice": false, "zero": false}, "axis": null}, "x2": {"datum": 0}}}
 ]},
{"data": {"name": "box"}, "transform": [{"filter": "datum.p == 'B'"}],
 "encoding": {"x": {"field": "gi", "type": "quantitative", "scale": {"domain": [-0.435, 1.435], "nice": false, "zero": false}, "axis": null}},
 "layer": [
  {"mark": {"type": "rule", "strokeWidth": 2.5}, "encoding": {"y": {"field": "lo", "type": "quantitative", "axis": null}, "y2": {"field": "hi"}, "color": {"condition": {"test": "datum.g == 'Control'", "value": "#0e2749"}, "value": "#4d0405"}}},
  {"mark": {"type": "bar", "size": 75}, "encoding": {"y": {"field": "q1", "type": "quantitative", "axis": null}, "y2": {"field": "q3"}, "color": {"condition": {"test": "datum.g == 'Control'", "value": "#0e2749"}, "value": "#4d0405"}}},
  {"mark": {"type": "tick", "orient": "horizontal", "color": "white", "size": 66, "thickness": 6, "opacity": 1}, "encoding": {"y": {"field": "med", "type": "quantitative", "axis": null}}}
 ]},
{"data": {"name": "pts"}, "transform": [{"filter": "datum.p == 'B'"}],
 "mark": {"type": "circle", "size": 300, "opacity": 0.78, "stroke": "#c5ccd4", "strokeWidth": 1.2, "strokeOpacity": 0.5},
 "encoding": {
  "x": {"field": "x", "type": "quantitative", "scale": {"domain": [-0.435, 1.435], "nice": false, "zero": false}, "axis": {"orient": "bottom", "values": [0, 1], "labelExpr": "datum.value == 0 ? 'Control' : ['Parkinson', 'Disease']", "title": null}},
  "y": {"field": "v", "type": "quantitative", "axis": {"orient": "left", "values": [0, 2.5, 5, 7.5, 10, 12.5, 15, 17.5, 20], "format": ".1f", "title": "AG number"}},
  "color": {"condition": {"test": "datum.g == 'Control'", "value": "#55708d"}, "value": "#88525a"}}},
{"data": {"name": "ann"}, "transform": [{"filter": "datum.p == 'B'"}],
 "layer": [
  {"mark": {"type": "rule", "color": "black", "strokeWidth": 2.2}, "encoding": {"x": {"datum": 0, "type": "quantitative", "axis": null}, "x2": {"datum": 1}, "y": {"datum": 18.07, "type": "quantitative", "axis": null}}},
  {"mark": {"type": "rule", "color": "black", "strokeWidth": 2.2}, "encoding": {"x": {"datum": 0, "type": "quantitative", "axis": null}, "y": {"datum": 17.64, "type": "quantitative", "axis": null}, "y2": {"datum": 18.07}}},
  {"mark": {"type": "rule", "color": "black", "strokeWidth": 2.2}, "encoding": {"x": {"datum": 1, "type": "quantitative", "axis": null}, "y": {"datum": 17.64, "type": "quantitative", "axis": null}, "y2": {"datum": 18.07}}},
  {"mark": {"type": "text", "font": "DejaVu Sans", "fontSize": 41, "align": "left", "baseline": "alphabetic", "color": "black"}, "encoding": {"x": {"datum": -0.395, "type": "quantitative", "axis": null}, "y": {"datum": 18.52, "type": "quantitative", "axis": null}, "text": {"field": "letter"}}},
  {"mark": {"type": "text", "font": "Liberation Sans", "fontSize": 30, "align": "left", "baseline": "alphabetic", "color": "black", "dx": -87}, "encoding": {"x": {"datum": 0.5, "type": "quantitative", "axis": null}, "y": {"datum": 18.56, "type": "quantitative", "axis": null}, "text": {"field": "ps"}}},
  {"mark": {"type": "text", "font": "Liberation Sans", "fontSize": 21, "align": "left", "baseline": "alphabetic", "color": "black", "dx": -70, "dy": 7}, "encoding": {"x": {"datum": 0.5, "type": "quantitative", "axis": null}, "y": {"datum": 18.56, "type": "quantitative", "axis": null}, "text": {"field": "sub"}}},
  {"mark": {"type": "text", "font": "Liberation Sans", "fontSize": 30, "align": "left", "baseline": "alphabetic", "color": "black", "dx": -16}, "encoding": {"x": {"datum": 0.5, "type": "quantitative", "axis": null}, "y": {"datum": 18.56, "type": "quantitative", "axis": null}, "text": {"field": "pval"}}}
 ]}
]
},
{
"width": 977, "height": 730,
"resolve": {"axis": {"x": "independent", "y": "independent"}},
"layer": [
{"resolve": {"scale": {"x": "independent"}},
 "data": {"name": "vio"},
 "transform": [{"filter": "datum.p == 'C'"}],
 "layer": [
  {"transform": [{"filter": "datum.g == 'Control'"}], "mark": {"type": "area", "orient": "horizontal", "color": "#9caab9"},
   "encoding": {"y": {"field": "v", "type": "quantitative", "scale": {"domain": [-5, 225], "nice": false, "zero": false}, "axis": null},
    "x": {"field": "h", "type": "quantitative", "scale": {"domain": [-0.435, 1.435], "nice": false, "zero": false}, "axis": null}, "x2": {"datum": 0}}},
  {"transform": [{"filter": "datum.g == 'Control'"}], "mark": {"type": "area", "orient": "horizontal", "color": "#9caab9"},
   "encoding": {"y": {"field": "v", "type": "quantitative", "axis": null},
    "x": {"field": "h", "type": "quantitative", "scale": {"domain": [-1.435, 0.435], "reverse": true, "nice": false, "zero": false}, "axis": null}, "x2": {"datum": 0}}},
  {"transform": [{"filter": "datum.g == 'PD'"}], "mark": {"type": "area", "orient": "horizontal", "color": "#b3979a"},
   "encoding": {"y": {"field": "v", "type": "quantitative", "axis": null},
    "x": {"field": "h", "type": "quantitative", "scale": {"domain": [-1.435, 0.435], "nice": false, "zero": false}, "axis": null}, "x2": {"datum": 0}}},
  {"transform": [{"filter": "datum.g == 'PD'"}], "mark": {"type": "area", "orient": "horizontal", "color": "#b3979a"},
   "encoding": {"y": {"field": "v", "type": "quantitative", "axis": null},
    "x": {"field": "h", "type": "quantitative", "scale": {"domain": [-0.435, 1.435], "reverse": true, "nice": false, "zero": false}, "axis": null}, "x2": {"datum": 0}}}
 ]},
{"data": {"name": "box"}, "transform": [{"filter": "datum.p == 'C'"}],
 "encoding": {"x": {"field": "gi", "type": "quantitative", "scale": {"domain": [-0.435, 1.435], "nice": false, "zero": false}, "axis": null}},
 "layer": [
  {"mark": {"type": "rule", "strokeWidth": 2.5}, "encoding": {"y": {"field": "lo", "type": "quantitative", "axis": null}, "y2": {"field": "hi"}, "color": {"condition": {"test": "datum.g == 'Control'", "value": "#0e2749"}, "value": "#4d0405"}}},
  {"mark": {"type": "bar", "size": 75}, "encoding": {"y": {"field": "q1", "type": "quantitative", "axis": null}, "y2": {"field": "q3"}, "color": {"condition": {"test": "datum.g == 'Control'", "value": "#0e2749"}, "value": "#4d0405"}}},
  {"mark": {"type": "tick", "orient": "horizontal", "color": "white", "size": 66, "thickness": 6, "opacity": 1}, "encoding": {"y": {"field": "med", "type": "quantitative", "axis": null}}}
 ]},
{"data": {"name": "pts"}, "transform": [{"filter": "datum.p == 'C'"}],
 "mark": {"type": "circle", "size": 300, "opacity": 0.78, "stroke": "#c5ccd4", "strokeWidth": 1.2, "strokeOpacity": 0.5},
 "encoding": {
  "x": {"field": "x", "type": "quantitative", "scale": {"domain": [-0.435, 1.435], "nice": false, "zero": false}, "axis": {"orient": "bottom", "values": [0, 1], "labelExpr": "datum.value == 0 ? 'Control' : ['Parkinson', 'Disease']", "title": null}},
  "y": {"field": "v", "type": "quantitative", "axis": {"orient": "left", "values": [0, 50, 100, 150, 200], "format": "d", "title": "Maximum AG volume (mm³)"}},
  "color": {"condition": {"test": "datum.g == 'Control'", "value": "#55708d"}, "value": "#88525a"}}},
{"data": {"name": "ann"}, "transform": [{"filter": "datum.p == 'C'"}],
 "layer": [
  {"mark": {"type": "rule", "color": "black", "strokeWidth": 2.2}, "encoding": {"x": {"datum": 0, "type": "quantitative", "axis": null}, "x2": {"datum": 1}, "y": {"datum": 205, "type": "quantitative", "axis": null}}},
  {"mark": {"type": "rule", "color": "black", "strokeWidth": 2.2}, "encoding": {"x": {"datum": 0, "type": "quantitative", "axis": null}, "y": {"datum": 200.3, "type": "quantitative", "axis": null}, "y2": {"datum": 205}}},
  {"mark": {"type": "rule", "color": "black", "strokeWidth": 2.2}, "encoding": {"x": {"datum": 1, "type": "quantitative", "axis": null}, "y": {"datum": 200.3, "type": "quantitative", "axis": null}, "y2": {"datum": 205}}},
  {"mark": {"type": "text", "font": "DejaVu Sans", "fontSize": 41, "align": "left", "baseline": "alphabetic", "color": "black"}, "encoding": {"x": {"datum": -0.395, "type": "quantitative", "axis": null}, "y": {"datum": 208.3, "type": "quantitative", "axis": null}, "text": {"field": "letter"}}},
  {"mark": {"type": "text", "font": "Liberation Sans", "fontSize": 30, "align": "left", "baseline": "alphabetic", "color": "black", "dx": -87}, "encoding": {"x": {"datum": 0.5, "type": "quantitative", "axis": null}, "y": {"datum": 208.7, "type": "quantitative", "axis": null}, "text": {"field": "ps"}}},
  {"mark": {"type": "text", "font": "Liberation Sans", "fontSize": 21, "align": "left", "baseline": "alphabetic", "color": "black", "dx": -70, "dy": 7}, "encoding": {"x": {"datum": 0.5, "type": "quantitative", "axis": null}, "y": {"datum": 208.7, "type": "quantitative", "axis": null}, "text": {"field": "sub"}}},
  {"mark": {"type": "text", "font": "Liberation Sans", "fontSize": 30, "align": "left", "baseline": "alphabetic", "color": "black", "dx": -16}, "encoding": {"x": {"datum": 0.5, "type": "quantitative", "axis": null}, "y": {"datum": 208.7, "type": "quantitative", "axis": null}, "text": {"field": "pval"}}}
 ]}
]
},
{
"width": 966, "height": 726,
"resolve": {"axis": {"x": "independent", "y": "independent"}},
"layer": [
{"resolve": {"scale": {"x": "independent"}},
 "data": {"name": "vio"},
 "transform": [{"filter": "datum.p == 'D'"}],
 "layer": [
  {"transform": [{"filter": "datum.g == 'Control'"}], "mark": {"type": "area", "orient": "horizontal", "color": "#9caab9"},
   "encoding": {"y": {"field": "v", "type": "quantitative", "scale": {"domain": [-1, 60], "nice": false, "zero": false}, "axis": null},
    "x": {"field": "h", "type": "quantitative", "scale": {"domain": [-0.435, 1.435], "nice": false, "zero": false}, "axis": null}, "x2": {"datum": 0}}},
  {"transform": [{"filter": "datum.g == 'Control'"}], "mark": {"type": "area", "orient": "horizontal", "color": "#9caab9"},
   "encoding": {"y": {"field": "v", "type": "quantitative", "axis": null},
    "x": {"field": "h", "type": "quantitative", "scale": {"domain": [-1.435, 0.435], "reverse": true, "nice": false, "zero": false}, "axis": null}, "x2": {"datum": 0}}},
  {"transform": [{"filter": "datum.g == 'PD'"}], "mark": {"type": "area", "orient": "horizontal", "color": "#b3979a"},
   "encoding": {"y": {"field": "v", "type": "quantitative", "axis": null},
    "x": {"field": "h", "type": "quantitative", "scale": {"domain": [-1.435, 0.435], "nice": false, "zero": false}, "axis": null}, "x2": {"datum": 0}}},
  {"transform": [{"filter": "datum.g == 'PD'"}], "mark": {"type": "area", "orient": "horizontal", "color": "#b3979a"},
   "encoding": {"y": {"field": "v", "type": "quantitative", "axis": null},
    "x": {"field": "h", "type": "quantitative", "scale": {"domain": [-0.435, 1.435], "reverse": true, "nice": false, "zero": false}, "axis": null}, "x2": {"datum": 0}}}
 ]},
{"data": {"name": "box"}, "transform": [{"filter": "datum.p == 'D'"}],
 "encoding": {"x": {"field": "gi", "type": "quantitative", "scale": {"domain": [-0.435, 1.435], "nice": false, "zero": false}, "axis": null}},
 "layer": [
  {"mark": {"type": "rule", "strokeWidth": 2.5}, "encoding": {"y": {"field": "lo", "type": "quantitative", "axis": null}, "y2": {"field": "hi"}, "color": {"condition": {"test": "datum.g == 'Control'", "value": "#0e2749"}, "value": "#4d0405"}}},
  {"mark": {"type": "bar", "size": 75}, "encoding": {"y": {"field": "q1", "type": "quantitative", "axis": null}, "y2": {"field": "q3"}, "color": {"condition": {"test": "datum.g == 'Control'", "value": "#0e2749"}, "value": "#4d0405"}}},
  {"mark": {"type": "tick", "orient": "horizontal", "color": "white", "size": 66, "thickness": 6, "opacity": 1}, "encoding": {"y": {"field": "med", "type": "quantitative", "axis": null}}}
 ]},
{"data": {"name": "pts"}, "transform": [{"filter": "datum.p == 'D'"}],
 "mark": {"type": "circle", "size": 300, "opacity": 0.78, "stroke": "#c5ccd4", "strokeWidth": 1.2, "strokeOpacity": 0.5},
 "encoding": {
  "x": {"field": "x", "type": "quantitative", "scale": {"domain": [-0.435, 1.435], "nice": false, "zero": false}, "axis": {"orient": "bottom", "values": [0, 1], "labelExpr": "datum.value == 0 ? 'Control' : ['Parkinson', 'Disease']", "title": null}},
  "y": {"field": "v", "type": "quantitative", "axis": {"orient": "left", "values": [0, 10, 20, 30, 40, 50, 60], "format": "d", "title": "Mean AG volume (mm³)"}},
  "color": {"condition": {"test": "datum.g == 'Control'", "value": "#55708d"}, "value": "#88525a"}}},
{"data": {"name": "ann"}, "transform": [{"filter": "datum.p == 'D'"}],
 "layer": [
  {"mark": {"type": "rule", "color": "black", "strokeWidth": 2.2}, "encoding": {"x": {"datum": 0, "type": "quantitative", "axis": null}, "x2": {"datum": 1}, "y": {"datum": 54.8, "type": "quantitative", "axis": null}}},
  {"mark": {"type": "rule", "color": "black", "strokeWidth": 2.2}, "encoding": {"x": {"datum": 0, "type": "quantitative", "axis": null}, "y": {"datum": 53.6, "type": "quantitative", "axis": null}, "y2": {"datum": 54.8}}},
  {"mark": {"type": "rule", "color": "black", "strokeWidth": 2.2}, "encoding": {"x": {"datum": 1, "type": "quantitative", "axis": null}, "y": {"datum": 53.6, "type": "quantitative", "axis": null}, "y2": {"datum": 54.8}}},
  {"mark": {"type": "text", "font": "DejaVu Sans", "fontSize": 41, "align": "left", "baseline": "alphabetic", "color": "black"}, "encoding": {"x": {"datum": -0.395, "type": "quantitative", "axis": null}, "y": {"datum": 55.5, "type": "quantitative", "axis": null}, "text": {"field": "letter"}}},
  {"mark": {"type": "text", "font": "Liberation Sans", "fontSize": 30, "align": "left", "baseline": "alphabetic", "color": "black", "dx": -87}, "encoding": {"x": {"datum": 0.5, "type": "quantitative", "axis": null}, "y": {"datum": 55.8, "type": "quantitative", "axis": null}, "text": {"field": "ps"}}},
  {"mark": {"type": "text", "font": "Liberation Sans", "fontSize": 21, "align": "left", "baseline": "alphabetic", "color": "black", "dx": -70, "dy": 7}, "encoding": {"x": {"datum": 0.5, "type": "quantitative", "axis": null}, "y": {"datum": 55.8, "type": "quantitative", "axis": null}, "text": {"field": "sub"}}},
  {"mark": {"type": "text", "font": "Liberation Sans", "fontSize": 30, "align": "left", "baseline": "alphabetic", "color": "black", "dx": -16}, "encoding": {"x": {"datum": 0.5, "type": "quantitative", "axis": null}, "y": {"datum": 55.8, "type": "quantitative", "axis": null}, "text": {"field": "pval"}}}
 ]}
]
}
],
"config": {
 "view": {"stroke": "black", "strokeWidth": 2.6},
 "axis": {"domain": false, "grid": false, "ticks": true, "tickSize": 10, "tickWidth": 2, "tickColor": "black", "labelFont": "DejaVu Sans", "labelFontSize": 26, "labelColor": "black", "titleFont": "Liberation Sans", "titleFontSize": 51, "titleFontWeight": "normal", "titleColor": "black", "labelFlush": false, "labelOverlap": false},
 "axisY": {"labelPadding": 10, "titlePadding": 12},
 "axisX": {"labelPadding": 8, "labelLineHeight": 32}
}
}
